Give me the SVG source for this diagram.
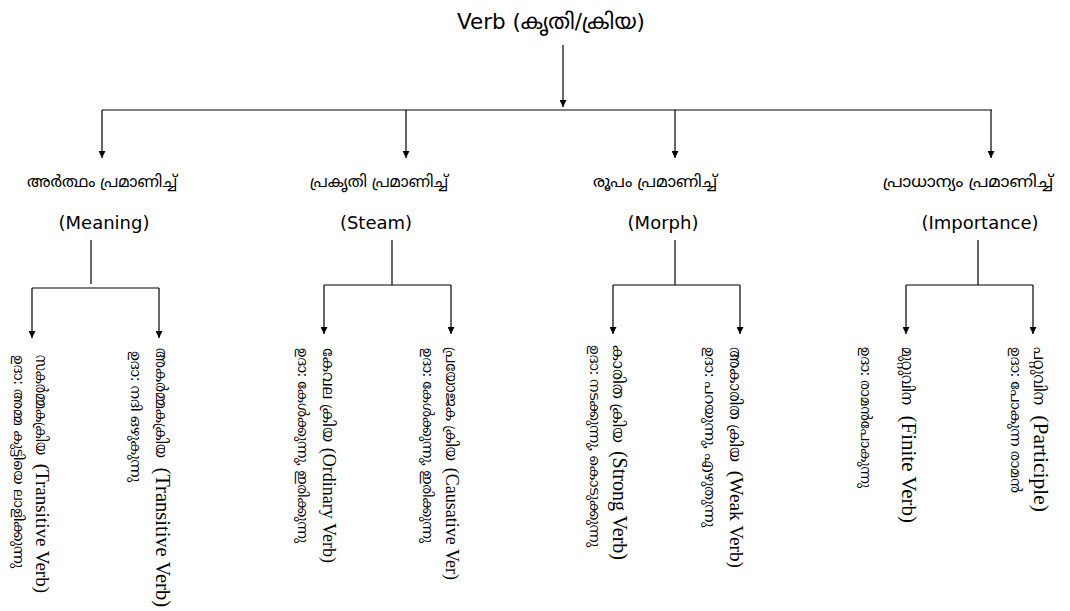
<svg xmlns="http://www.w3.org/2000/svg" width="1070" height="611" viewBox="0 0 1070 611">
<style>
.t{font-family:"DejaVu Sans","Noto Sans Malayalam","Noto Sans",sans-serif;fill:#000;text-anchor:middle}
.lab{font-size:18px}
.ml{font-size:16px}
.mm{font-family:"Noto Serif Malayalam","Noto Sans Malayalam","Liberation Serif",serif;font-size:16px;fill:#000}
.en{font-family:"Liberation Serif","Times New Roman",serif;fill:#000;text-anchor:end}
.sub{font-family:"Noto Serif Malayalam","Noto Sans Malayalam","Liberation Serif",serif;font-size:14.5px;fill:#000}
.c line{stroke:#000;stroke-width:1.2;fill:none}
.c line.a{marker-end:url(#ah)}
</style>
<defs>
<marker id="ah" viewBox="0 0 10 10" refX="10" refY="5" markerWidth="10" markerHeight="7" markerUnits="userSpaceOnUse" orient="auto">
<path d="M0,0 L10,5 L0,10 z" fill="#000"/>
</marker>
</defs>
<rect width="1070" height="611" fill="#fff"/>

<g id="connectors" class="c">
<line class="a" x1="563" y1="45" x2="563" y2="107"/>
<line x1="102" y1="110" x2="992" y2="110"/>
<line class="a" x1="102" y1="110" x2="102" y2="158"/>
<line class="a" x1="406" y1="110" x2="406" y2="158"/>
<line class="a" x1="675" y1="110" x2="675" y2="158"/>
<line class="a" x1="991" y1="110" x2="991" y2="158"/>

<line x1="91" y1="240" x2="91" y2="284"/>
<line x1="32" y1="288" x2="159" y2="288"/>
<line class="a" x1="32" y1="288" x2="32" y2="338"/>
<line class="a" x1="159" y1="288" x2="159" y2="338"/>

<line x1="392" y1="240" x2="392" y2="285"/>
<line x1="324" y1="285" x2="451" y2="285"/>
<line class="a" x1="324" y1="285" x2="324" y2="334"/>
<line class="a" x1="451" y1="285" x2="451" y2="334"/>

<line x1="675" y1="240" x2="675" y2="285"/>
<line x1="613" y1="285" x2="740" y2="285"/>
<line class="a" x1="613" y1="285" x2="613" y2="334"/>
<line class="a" x1="740" y1="285" x2="740" y2="334"/>

<line x1="978" y1="240" x2="978" y2="285"/>
<line x1="906" y1="285" x2="1033" y2="285"/>
<line class="a" x1="906" y1="285" x2="906" y2="334"/>
<line class="a" x1="1033" y1="285" x2="1033" y2="334"/>
</g>

<g id="root"><text class="t" x="551" y="29" font-size="22" textLength="188" lengthAdjust="spacingAndGlyphs">Verb (കൃതി/ക്രിയ)</text></g>

<g id="meaning">
<text class="t ml" x="102" y="187" textLength="150" lengthAdjust="spacingAndGlyphs">അർത്ഥം പ്രമാണിച്ച്</text>
<text class="t lab" x="104" y="229">(Meaning)</text>
</g>
<g id="steam">
<text class="t ml" x="379" y="187" textLength="138" lengthAdjust="spacingAndGlyphs">പ്രകൃതി പ്രമാണിച്ച്</text>
<text class="t lab" x="376" y="229">(Steam)</text>
</g>
<g id="morph">
<text class="t ml" x="655" y="187" textLength="124" lengthAdjust="spacingAndGlyphs">രൂപം പ്രമാണിച്ച്</text>
<text class="t lab" x="663" y="229">(Morph)</text>
</g>
<g id="importance">
<text class="t ml" x="968" y="187" textLength="170" lengthAdjust="spacingAndGlyphs">പ്രാധാന്യം പ്രമാണിച്ച്</text>
<text class="t lab" x="980" y="229">(Importance)</text>
</g>

<g id="transitive1">
<text class="mm" transform="translate(36,355) rotate(90)" textLength="100" lengthAdjust="spacingAndGlyphs">സകർമ്മകക്രിയ</text>
<text class="en" font-size="19" transform="translate(36,593) rotate(90)">(Transitive Verb)</text>
<text class="sub" transform="translate(14,355) rotate(90)" textLength="213" lengthAdjust="spacingAndGlyphs">ഉദാ: അമ്മ കുട്ടിയെ ലാളിക്കുന്നു</text>
</g>
<g id="transitive2">
<text class="mm" transform="translate(156,348) rotate(90)" textLength="110" lengthAdjust="spacingAndGlyphs">അകർമ്മകക്രിയ</text>
<text class="en" font-size="20.5" transform="translate(156,607) rotate(90)">(Transitive Verb)</text>
<text class="sub" transform="translate(131,351) rotate(90)" textLength="131" lengthAdjust="spacingAndGlyphs">ഉദാ: നദി ഒഴുകുന്നു</text>
</g>
<g id="ordinary">
<text class="mm" transform="translate(323,348) rotate(90)" textLength="94" lengthAdjust="spacingAndGlyphs">കേവല ക്രിയ</text>
<text class="en" font-size="18" transform="translate(323,563) rotate(90)">(Ordinary Verb)</text>
<text class="sub" transform="translate(298,348) rotate(90)" textLength="195" lengthAdjust="spacingAndGlyphs">ഉദാ: കേൾക്കുന്നു, ഇരിക്കുന്നു</text>
</g>
<g id="causative">
<text class="mm" transform="translate(446,347) rotate(90)" textLength="114" lengthAdjust="spacingAndGlyphs">പ്രയോജക ക്രിയ</text>
<text class="en" font-size="18" transform="translate(446,580) rotate(90)">(Causative Ver)</text>
<text class="sub" transform="translate(423,348) rotate(90)" textLength="195" lengthAdjust="spacingAndGlyphs">ഉദാ: കേൾക്കുന്നു, ഇരിക്കുന്നു</text>
</g>
<g id="strong">
<text class="mm" transform="translate(613,345) rotate(90)" textLength="98" lengthAdjust="spacingAndGlyphs">കാരിത ക്രിയ</text>
<text class="en" font-size="20" transform="translate(613,560) rotate(90)">(Strong Verb)</text>
<text class="sub" transform="translate(590,345) rotate(90)" textLength="202" lengthAdjust="spacingAndGlyphs">ഉദാ: നടക്കുന്നു, കൊടുക്കുന്നു</text>
</g>
<g id="weak">
<text class="mm" transform="translate(730,347) rotate(90)" textLength="115" lengthAdjust="spacingAndGlyphs">അകാരിത ക്രിയ</text>
<text class="en" font-size="19.3" transform="translate(730,568) rotate(90)">(Weak Verb)</text>
<text class="sub" transform="translate(705,347) rotate(90)" textLength="180" lengthAdjust="spacingAndGlyphs">ഉദാ: പറയുന്നു, എഴുതുന്നു</text>
</g>
<g id="finite">
<text class="mm" transform="translate(902,347) rotate(90)" textLength="58" lengthAdjust="spacingAndGlyphs">മുറ്റുവിന</text>
<text class="en" font-size="21" transform="translate(902,523) rotate(90)">(Finite Verb)</text>
<text class="sub" transform="translate(861,347) rotate(90)" textLength="141" lengthAdjust="spacingAndGlyphs">ഉദാ: രാമൻപോകുന്നു</text>
</g>
<g id="participle">
<text class="mm" transform="translate(1034,347) rotate(90)" textLength="58" lengthAdjust="spacingAndGlyphs">പറ്റുവിന</text>
<text class="en" font-size="21.5" transform="translate(1034,512) rotate(90)">(Participle)</text>
<text class="sub" transform="translate(1011,347) rotate(90)" textLength="146" lengthAdjust="spacingAndGlyphs">ഉദാ: പോകുന്ന രാമൻ</text>
</g>
</svg>
